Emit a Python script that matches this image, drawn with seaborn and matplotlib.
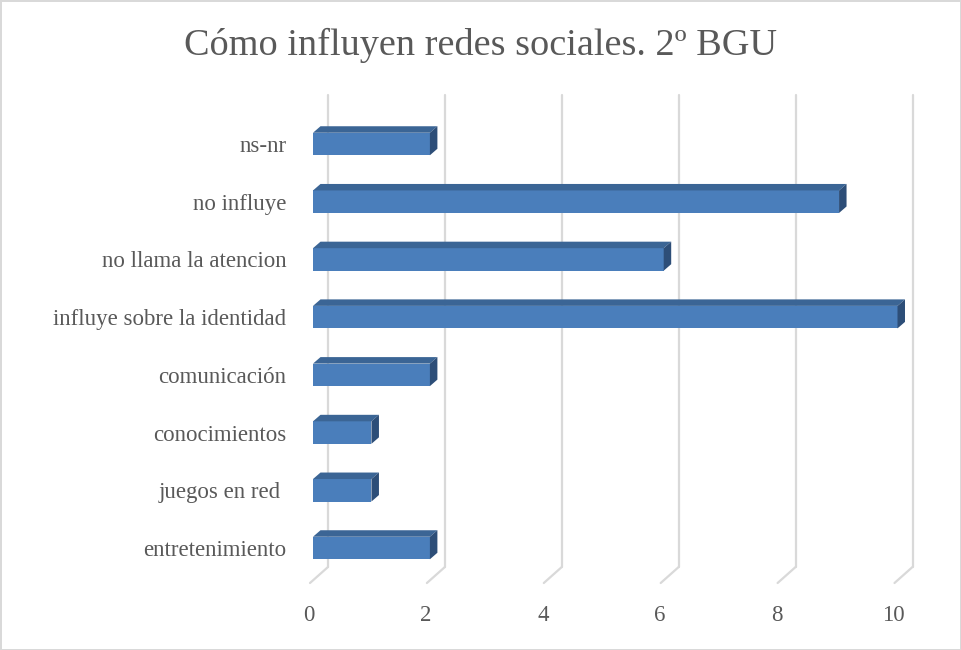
import matplotlib
matplotlib.use("Agg")
import matplotlib.pyplot as plt
from matplotlib.patches import Polygon
import matplotlib.transforms as mtransforms
import seaborn as sns
import pandas as pd

# data (top to bottom)
categories = ["ns-nr", "no influye", "no llama la atencion", "influye sobre la identidad",
              "comunicación", "conocimientos", "juegos en red ", "entretenimiento"]
values = [2, 9, 6, 10, 2, 1, 1, 2]
x_ticks = [0, 2, 4, 6, 8, 10]
title = "Cómo influyen redes sociales. 2º BGU"

front_col = "#4a7ebb"
top_col = "#3b6595"
side_col = "#2d4e78"
grid_col = "#d9d9d9"
text_col = "#595959"

sns.set_theme(style="white")
plt.rcParams["font.family"] = ["Liberation Serif", "DejaVu Serif"]

df = pd.DataFrame({"cat": categories, "val": values})

fig = plt.figure(figsize=(9.61, 6.5), dpi=100)
fig.patch.set_edgecolor(grid_col)
fig.patch.set_linewidth(2)

W, H = 961, 650
left, right, top, bottom = 313, 897.5, 95, 583
ax = fig.add_axes([left / W, 1 - bottom / H, (right - left) / W, (bottom - top) / H])

sns.barplot(data=df, x="val", y="cat", orient="h", color=front_col,
            width=0.39, saturation=1, ax=ax, zorder=3)

ax.set_xlim(0, 10)
# rows centred at 144px (first) ... 548px (last)
row_px = (548 - 144) / (len(categories) - 1)
ax.set_ylim((bottom - 144) / row_px, (top - 144) / row_px)

# back wall gridlines + floor diagonals
px_x = (right - left) / 10
back_dx = 15 / px_x
floor_frac = 16 / (bottom - top)
blend = mtransforms.blended_transform_factory(ax.transData, ax.transAxes)
for t in x_ticks:
    ax.plot([t + back_dx, t + back_dx], [floor_frac, 1], color=grid_col, lw=1.6,
            transform=blend, zorder=1, clip_on=False)
    ax.plot([t - 3 / px_x, t + back_dx], [0, floor_frac], color=grid_col, lw=1.6,
            transform=blend, zorder=1, clip_on=False)

# 3d faces on bars
dx = 7.5 / px_x
dy = 6.5 / row_px
for p in list(ax.patches):
    p.set_edgecolor("none")
    x0, x1 = p.get_x(), p.get_x() + p.get_width()
    y_top, h = p.get_y(), p.get_height()
    ax.add_patch(Polygon([(x0, y_top), (x1, y_top), (x1 + dx, y_top - dy), (x0 + dx, y_top - dy)],
                         closed=True, facecolor=top_col, edgecolor="none", zorder=4, clip_on=False))
    ax.add_patch(Polygon([(x1, y_top), (x1 + dx, y_top - dy), (x1 + dx, y_top + h - dy), (x1, y_top + h)],
                         closed=True, facecolor=side_col, edgecolor="none", zorder=4, clip_on=False))

ax.set_xticks(x_ticks)
ax.set_xticklabels([str(t) for t in x_ticks])
ax.tick_params(axis="x", length=0, pad=16, labelsize=16.5, labelcolor=text_col)
ax.tick_params(axis="y", length=0, pad=19, labelsize=16.5, labelcolor=text_col)
shift = mtransforms.ScaledTranslation(-4 / 100, 0, fig.dpi_scale_trans)
for lab in ax.get_xticklabels():
    lab.set_transform(lab.get_transform() + shift)
ax.set_xlabel("")
ax.set_ylabel("")
for s in ax.spines.values():
    s.set_visible(False)
ax.grid(False)
ax.set_facecolor("none")

fig.text(481 / W, 1 - 45 / H, title, ha="center", va="center", fontsize=27.5, color=text_col)

fig.savefig("out.png", dpi=100, edgecolor=fig.get_edgecolor())
